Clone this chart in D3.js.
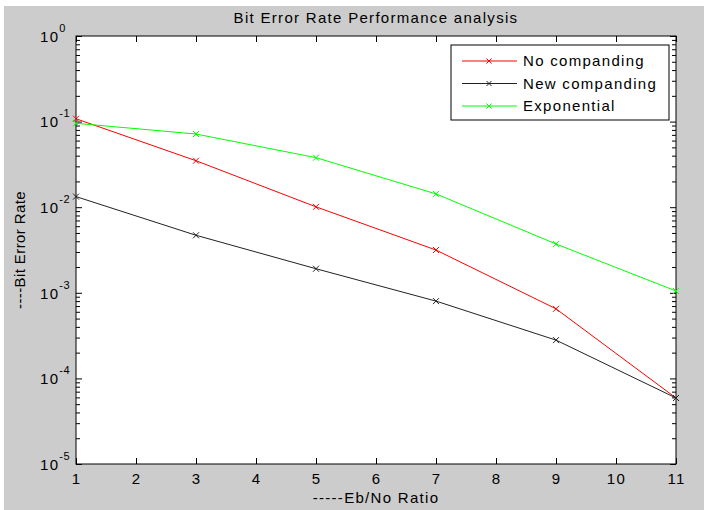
<!DOCTYPE html>
<html lang="en">
<head>
<meta charset="UTF-8">
<title>Bit Error Rate Performance analysis</title>
<style>
    body { margin: 0; background: #ffffff; }
    svg text { font-family: "Liberation Sans", Arial, sans-serif; fill: #000; }
</style>
</head>
<body>
<div id="chart"></div>
<script src="https://d3js.org/d3.v7.min.js"></script>
<script type="text/javascript">
// data
const ebno = [1, 3, 5, 7, 9, 11];
const noCompanding = [0.108, 0.0349, 0.0101, 0.00316, 0.00065, 0.000059];
const newCompanding = [0.0133, 0.0047, 0.00191, 0.00080, 0.00028, 0.000059];
const exponential = [0.0955, 0.0716, 0.0379, 0.0143, 0.00372, 0.00105];

const seriesNames = ["No companding", "New companding", "Exponential"];
const seriesColors = ["#ff0000", "#222222", "#00ff00"];
const xTicks = [1, 2, 3, 4, 5, 6, 7, 8, 9, 10, 11];
const yDecades = [1e-5, 1e-4, 1e-3, 1e-2, 1e-1, 1];

const W = 704, H = 510;
const plot = { left: 76, top: 36, right: 676, bottom: 464 };

const svg = d3.select("#chart").append("svg")
    .attr("width", W)
    .attr("height", H);

// figure background (matlab grey)
svg.append("rect").attr("x", 4).attr("y", 6).attr("width", W - 4).attr("height", H - 6)
    .attr("fill", "#cccccc");
svg.append("rect")
    .attr("x", plot.left).attr("y", plot.top)
    .attr("width", plot.right - plot.left).attr("height", plot.bottom - plot.top)
    .attr("fill", "#ffffff");

const x = d3.scaleLinear().domain([1, 11]).range([plot.left, plot.right]);
const y = d3.scaleLog().domain([1e-5, 1]).range([plot.bottom, plot.top]);

// minor log ticks
const minorTicks = [];
yDecades.slice(0, -1).forEach(d => {
    for (let k = 2; k <= 9; k++) minorTicks.push(d * k);
});

const fontSize = 15;
const spacing = "1.3px";

// x axes (bottom with labels, top ticks only)
const xBottom = svg.append("g")
    .attr("transform", `translate(0,${plot.bottom})`)
    .call(d3.axisBottom(x).tickValues(xTicks).tickFormat(d3.format("d"))
        .tickSizeInner(-6).tickSizeOuter(0).tickPadding(9));
svg.append("g")
    .attr("transform", `translate(0,${plot.top})`)
    .call(d3.axisTop(x).tickValues(xTicks).tickFormat("")
        .tickSizeInner(-6).tickSizeOuter(0));

// y axes
const yLeft = svg.append("g")
    .attr("transform", `translate(${plot.left},0)`)
    .call(d3.axisLeft(y).tickValues(yDecades).tickFormat(() => "")
        .tickSizeInner(-6).tickSizeOuter(0));
svg.append("g")
    .attr("transform", `translate(${plot.left},0)`)
    .call(d3.axisLeft(y).tickValues(minorTicks).tickFormat("")
        .tickSizeInner(-4).tickSizeOuter(0));
svg.append("g")
    .attr("transform", `translate(${plot.right},0)`)
    .call(d3.axisRight(y).tickValues(yDecades).tickFormat("")
        .tickSizeInner(-6).tickSizeOuter(0));
svg.append("g")
    .attr("transform", `translate(${plot.right},0)`)
    .call(d3.axisRight(y).tickValues(minorTicks).tickFormat("")
        .tickSizeInner(-4).tickSizeOuter(0));

svg.selectAll(".domain").attr("stroke", "none");
svg.selectAll(".tick line").attr("stroke", "#000").attr("stroke-width", 1);

xBottom.selectAll(".tick text")
    .attr("font-size", fontSize)
    .style("letter-spacing", spacing)
    .attr("font-family", null);

// 10^k labels
yLeft.selectAll(".tick text").each(function(d) {
    const t = d3.select(this)
        .attr("font-size", fontSize)
        .attr("font-family", null)
        .attr("text-anchor", "start")
        .attr("x", -36)
        .attr("dy", "0.35em")
        .style("letter-spacing", spacing);
    t.append("tspan").text("10");
    t.append("tspan").attr("font-size", 11).attr("dy", -10)
        .style("letter-spacing", "0.5px")
        .text(Math.round(Math.log10(d)));
});

// axes box
svg.append("rect")
    .attr("x", plot.left).attr("y", plot.top)
    .attr("width", plot.right - plot.left).attr("height", plot.bottom - plot.top)
    .attr("fill", "none").attr("stroke", "#000").attr("stroke-width", 1);

// lines
const allSeries = [noCompanding, newCompanding, exponential];
const line = d3.line().x((d, i) => x(ebno[i])).y(d => y(d));
const cross = "M-3,-3L3,3M-3,3L3,-3";

// draw in matlab order, green on top
allSeries.forEach((vals, s) => {
    svg.append("path")
        .datum(vals)
        .attr("d", line)
        .attr("fill", "none")
        .attr("stroke", seriesColors[s])
        .attr("stroke-width", 1);
    svg.selectAll(".m" + s).data(vals).enter()
        .append("path")
        .attr("class", "m" + s)
        .attr("transform", (d, i) => `translate(${x(ebno[i])},${y(d)})`)
        .attr("d", cross)
        .attr("stroke", seriesColors[s])
        .attr("stroke-width", 1);
});

// title and axis labels
svg.append("text")
    .attr("x", (plot.left + plot.right) / 2).attr("y", 23)
    .attr("text-anchor", "middle")
    .attr("font-size", fontSize)
    .style("letter-spacing", spacing)
    .text("Bit Error Rate Performance analysis");

svg.append("text")
    .attr("x", (plot.left + plot.right) / 2).attr("y", 503)
    .attr("text-anchor", "middle")
    .attr("font-size", fontSize)
    .style("letter-spacing", spacing)
    .text("-----Eb/No Ratio");

svg.append("text")
    .attr("transform", `translate(25,${(plot.top + plot.bottom) / 2}) rotate(-90)`)
    .attr("text-anchor", "middle")
    .attr("font-size", fontSize)
    .style("letter-spacing", "0.4px")
    .text("----Bit Error Rate");

// legend
const legend = svg.append("g");
legend.append("rect")
    .attr("x", 451).attr("y", 45)
    .attr("width", 218).attr("height", 75)
    .attr("fill", "#ffffff").attr("stroke", "#000").attr("stroke-width", 1);

seriesNames.forEach((name, i) => {
    const ly = 61 + i * 22.5;
    legend.append("line")
        .attr("x1", 462).attr("x2", 517).attr("y1", ly).attr("y2", ly)
        .attr("stroke", seriesColors[i]).attr("stroke-width", 1);
    legend.append("path")
        .attr("transform", `translate(489,${ly})`)
        .attr("d", "M-2.5,-2.5L2.5,2.5M-2.5,2.5L2.5,-2.5")
        .attr("stroke", seriesColors[i]).attr("stroke-width", 1);
    legend.append("text")
        .attr("x", 523).attr("y", ly).attr("dy", "0.35em")
        .attr("font-size", fontSize)
        .style("letter-spacing", spacing)
        .text(name);
});
</script>
</body>
</html>
